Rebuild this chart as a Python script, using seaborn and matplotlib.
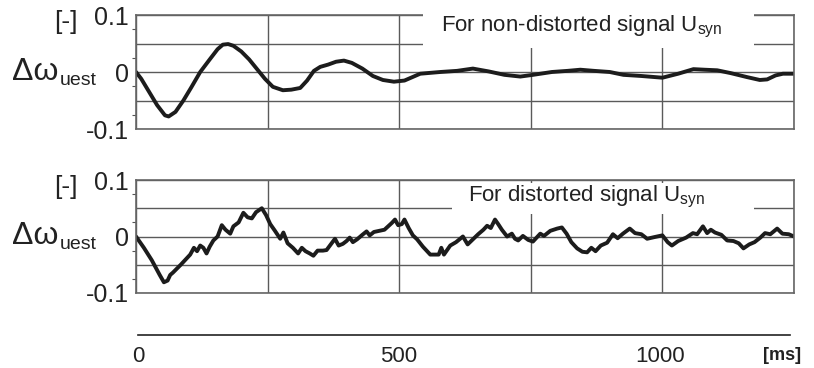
import matplotlib
matplotlib.use("Agg")
import matplotlib.pyplot as plt
import matplotlib.ticker as mticker
from matplotlib.patches import Rectangle
import seaborn as sns
import pandas as pd

# ---------------- data ----------------
t_clean = [0, 10, 25, 40, 55, 62, 75, 90, 105, 122, 140, 155, 165, 175, 185, 200, 215, 230,
           245, 260, 279, 295, 312, 325, 338, 350, 365, 380, 395, 410, 430, 450, 469, 490,
           510, 540, 578, 610, 640, 670, 700, 730, 754, 790, 820, 844, 870, 900, 926, 960,
           1000, 1030, 1059, 1080, 1104, 1130, 1161, 1185, 1199, 1215, 1229, 1250]
v_clean = [0.0, -0.012, -0.035, -0.058, -0.076, -0.078, -0.07, -0.05, -0.027, 0.0, 0.022,
           0.04, 0.048, 0.049, 0.046, 0.036, 0.022, 0.005, -0.012, -0.026, -0.032, -0.031,
           -0.028, -0.015, 0.002, 0.009, 0.013, 0.018, 0.02, 0.016, 0.006, -0.007, -0.014,
           -0.017, -0.015, -0.003, 0.0, 0.002, 0.006, 0.001, -0.005, -0.008, -0.005, 0.0,
           0.002, 0.004, 0.002, 0.0, -0.005, -0.007, -0.01, -0.003, 0.005, 0.004, 0.003,
           -0.002, -0.009, -0.014, -0.013, -0.006, -0.003, -0.003]

t_dist = [0, 15, 30, 45, 53, 60, 65, 70, 85, 103, 110, 116, 122, 128, 134, 140, 147, 155,
          163, 170, 179, 185, 195, 204, 212, 220, 228, 239, 247, 255, 264, 274, 280, 288,
          298, 308, 315, 322, 330, 337, 345, 355, 362, 370, 378, 385, 393, 400, 406, 412,
          420, 430, 438, 444, 452, 462, 472, 479, 486, 492, 498, 505, 510, 518, 526, 534,
          545, 559, 575, 580, 585, 597, 608, 621, 630, 640, 650, 660, 667, 674, 682, 688,
          695, 705, 714, 720, 726, 735, 745, 754, 768, 775, 787, 800, 809, 818, 827, 838,
          848, 857, 865, 873, 883, 895, 906, 915, 925, 938, 948, 960, 971, 985, 1000, 1010,
          1018, 1030, 1045, 1058, 1066, 1077, 1085, 1092, 1100, 1112, 1123, 1135, 1145,
          1154, 1165, 1175, 1186, 1195, 1205, 1218, 1228, 1240, 1250]
v_dist = [0.0, -0.02, -0.042, -0.068, -0.081, -0.078, -0.068, -0.064, -0.05, -0.032, -0.02,
          -0.026, -0.016, -0.02, -0.03, -0.018, -0.007, 0.0, 0.02, 0.012, 0.005, 0.018,
          0.025, 0.042, 0.034, 0.032, 0.043, 0.05, 0.038, 0.022, 0.01, -0.004, 0.007,
          -0.012, -0.02, -0.03, -0.02, -0.026, -0.03, -0.034, -0.025, -0.025, -0.024,
          -0.014, -0.004, -0.016, -0.013, -0.008, -0.002, -0.01, -0.005, 0.003, 0.009,
          0.002, 0.008, 0.01, 0.012, 0.018, 0.024, 0.03, 0.02, 0.022, 0.03, 0.015, 0.002,
          -0.005, -0.018, -0.032, -0.032, -0.02, -0.032, -0.016, -0.01, 0.0, -0.014,
          -0.005, 0.004, 0.012, 0.019, 0.015, 0.03, 0.022, 0.012, 0.0, 0.005, -0.004,
          -0.007, 0.001, -0.006, -0.009, 0.005, 0.001, 0.01, 0.014, 0.016, 0.005, -0.01,
          -0.021, -0.027, -0.028, -0.02, -0.026, -0.016, -0.011, 0.004, -0.003, 0.005,
          0.014, 0.006, 0.004, -0.004, -0.001, 0.002, -0.01, -0.016, -0.008, -0.002, 0.006,
          0.004, 0.018, 0.006, 0.012, 0.007, 0.003, -0.007, -0.008, -0.012, -0.021, -0.014,
          -0.01, -0.002, 0.006, 0.004, 0.014, 0.005, 0.004, 0.0]

x_ticks = [0, 250, 500, 750, 1000, 1250]
x_tick_labels = ["0", "", "500", "", "1000", ""]
y_ticks = [-0.1, -0.05, 0, 0.05, 0.1]
y_tick_labels = ["-0.1", "", "0", "", "0.1"]
titles = ["For non-distorted signal U$_{\\mathrm{syn}}$", "For distorted signal U$_{\\mathrm{syn}}$"]

# ---------------- style ----------------
sns.set_theme(style="white")
plt.rcParams["font.family"] = ["Liberation Sans", "DejaVu Sans"]
plt.rcParams["mathtext.fontset"] = "custom"
plt.rcParams["mathtext.rm"] = "Liberation Sans"
plt.rcParams["mathtext.it"] = "Liberation Sans:italic"

W, H = 814, 368
fig = plt.figure(figsize=(W / 100, H / 100), dpi=100)

def fx(px):
    return px / W

def fy(py):
    return 1 - py / H

line_col = "#1c1c1c"
grid_col = "#5a5a5a"
txt_col = "#222222"

panels = [
    dict(top=15, bot=129, zero=72, t=t_clean, v=v_clean, title=titles[0],
         box=(423, 10, 754, 48), tx=441, ty=27),
    dict(top=180, bot=293, zero=236, t=t_dist, v=v_dist, title=titles[1],
         box=(452, 183, 754, 214), tx=468, ty=197),
]

L, R = 136, 794
for p in panels:
    ax = fig.add_axes([fx(L), fy(p["bot"]), fx(R - L), (p["bot"] - p["top"]) / H])
    df = pd.DataFrame({"t": p["t"], "v": p["v"]})
    sns.lineplot(data=df, x="t", y="v", ax=ax, color=line_col, linewidth=2.8,
                 zorder=2)
    ax.set_xlim(0, 1250)
    ax.set_ylim(-0.1, 0.1)
    ax.set_xlabel("")
    ax.set_ylabel("")
    ax.set_xticks(x_ticks)
    ax.set_xticklabels([])
    ax.set_yticks(y_ticks)
    ax.set_yticklabels(y_tick_labels, fontsize=18)
    ax.yaxis.set_minor_locator(mticker.FixedLocator([-0.075, -0.025, 0.025, 0.075]))
    ax.tick_params(axis="x", length=0)
    ax.tick_params(axis="y", which="major", length=0, pad=5, labelcolor=txt_col)
    ax.tick_params(axis="y", which="minor", length=3, width=0.8, color="#555555",
                   direction="out", left=True)
    ax.grid(True, color=grid_col, linewidth=1.0)
    ax.set_axisbelow(True)
    for s in ax.spines.values():
        s.set_color("#666666")
        s.set_linewidth(1.2)
    # white box for the caption
    x0, y0, x1, y1 = p["box"]
    rect = Rectangle((fx(x0), fy(y1)), fx(x1 - x0), (y1 - y0) / H,
                     transform=fig.transFigure, facecolor="white", edgecolor="none",
                     zorder=2.6, clip_on=False)
    ax.add_artist(rect)
    ax.text(fx(p["tx"]), fy(p["ty"]), p["title"], transform=fig.transFigure,
            fontsize=16, color=txt_col, ha="left", va="center", zorder=3)
    # axis labels
    ax.text(fx(54), fy(p["top"] + 7), "[-]", transform=fig.transFigure, fontsize=19,
            color=txt_col, ha="left", va="center")
    ax.text(fx(12), fy(p["zero"] + 8), "Δω", transform=fig.transFigure,
            fontsize=23, color=txt_col, ha="left", va="baseline")
    ax.text(fx(60), fy(p["zero"] + 13), "uest", transform=fig.transFigure,
            fontsize=14, color=txt_col, ha="left", va="baseline")

# bottom time axis
axb = fig.add_axes([fx(138), fy(335), fx(790 - 138), 0.0005])
axb.set_xlim(0, 1250)
axb.set_yticks([])
for side in ["top", "left", "right"]:
    axb.spines[side].set_visible(False)
axb.spines["bottom"].set_color(txt_col)
axb.spines["bottom"].set_linewidth(1.2)
axb.set_xticks(x_ticks)
axb.set_xticklabels(x_tick_labels, fontsize=16,
                    family=["Liberation Sans Narrow", "Liberation Sans"])
axb.tick_params(axis="x", length=4, width=1, color=txt_col, direction="out", pad=4,
                labelcolor=txt_col)
axb.patch.set_visible(False)
fig.text(fx(763), fy(355), "[ms]", fontsize=13, fontweight="bold", color=txt_col,
         ha="left", va="center")

fig.savefig("out.png", dpi=100, facecolor="white")
